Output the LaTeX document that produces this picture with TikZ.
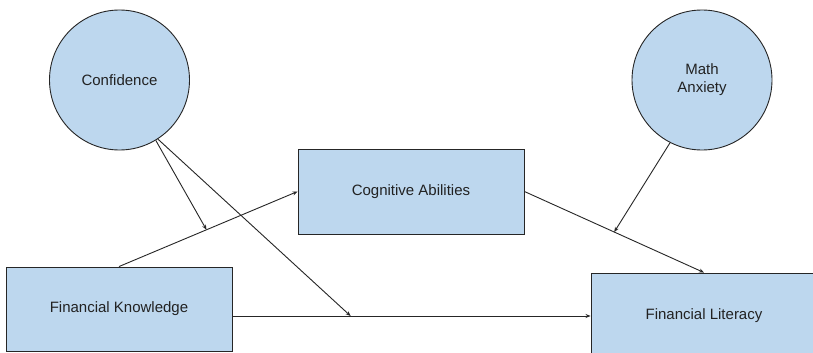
\documentclass[tikz,border=0pt]{standalone}
\usepackage{fontspec}
\setmainfont{Liberation Sans}
\usetikzlibrary{arrows.meta}
\definecolor{boxblue}{HTML}{BDD7EE}
\definecolor{txt}{HTML}{222222}
\begin{document}
\begin{tikzpicture}[x=1pt,y=-1pt,
  every node/.style={font=\fontsize{15}{18}\selectfont, text=txt},
  circ/.style={circle, draw=black!85, fill=boxblue, line width=0.9pt, minimum size=140pt, inner sep=0pt, align=center},
  rbox/.style={rectangle, draw=black!85, fill=boxblue, line width=0.9pt, inner sep=0pt},
  conn/.style={draw=black!85, line width=0.9pt, -{Stealth[length=5pt,width=4pt]}}]
\useasboundingbox (0,0) rectangle (813,353);
\clip (0,0) rectangle (813,353);
\fill[white] (0,0) rectangle (813,353);
\node[circ] (conf) at (119.5,80) {Confidence};
\node[circ] (math) at (702,80) {Math\\Anxiety};
\node[rbox, minimum width=226pt, minimum height=85pt] (ca) at (411,191.5) {Cognitive Abilities};
\node[rbox, minimum width=226pt, minimum height=84pt] (fk) at (119,309) {Financial Knowledge};
\node[rbox, minimum width=226pt, minimum height=86pt] (fl) at (704,316) {Financial Literacy};
\coordinate (fkout) at (fk.east |- fl.west);
\path (fk.north) -- (ca.west) coordinate[pos=0.49] (m1);
\path (fkout) -- (fl.west) coordinate[pos=0.33] (m2);
\path (ca.east) -- (fl.north) coordinate[pos=0.5] (m3);
\draw[conn] (fk.north) -- (ca.west);
\draw[conn] (fkout) -- (fl.west);
\draw[conn] (ca.east) -- (fl.north);
\draw[conn] (conf.-59) -- (m1);
\draw[conn] (conf.-57) -- (m2);
\draw[conn] (math.-117) -- (m3);
\end{tikzpicture}
\end{document}
